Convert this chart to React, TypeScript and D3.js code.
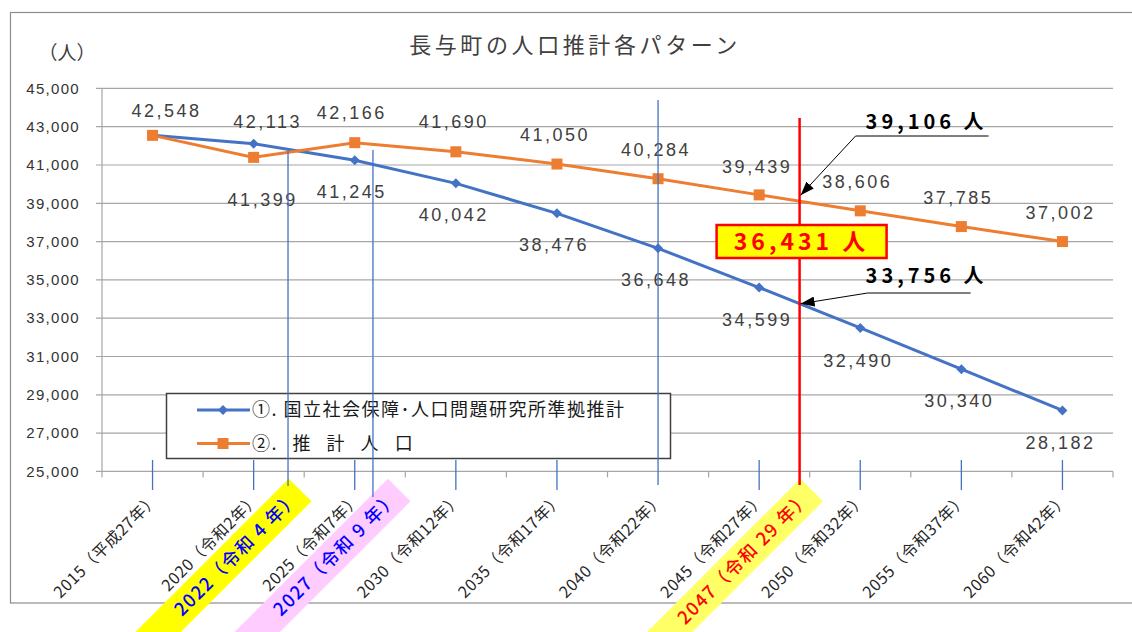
import React from 'react';
import * as d3 from 'd3';

const W = 1132;
const H = 632;

// categories
const years = [
  '2015（平成27年）', '2020（令和2年）', '2025（令和7年）', '2030（令和12年）', '2035（令和17年）',
  '2040（令和22年）', '2045（令和27年）', '2050（令和32年）', '2055（令和37年）', '2060（令和42年）',
];
const yearNums = [2015, 2020, 2025, 2030, 2035, 2040, 2045, 2050, 2055, 2060];

// series
const ipssValues = [42548, 42113, 41245, 40042, 38476, 36648, 34599, 32490, 30340, 28182];
const estValues = [42548, 41399, 42166, 41690, 41050, 40284, 39439, 38606, 37785, 37002];
const seriesNames = ['①. 国立社会保障･人口問題研究所準拠推計', '②. 推 計 人 口'];

const yTicks = [25000, 27000, 29000, 31000, 33000, 35000, 37000, 39000, 41000, 43000, 45000];

// highlighted years
const targetYear = 2047;
const targetEst = 39106;
const targetIpss = 33756;
const targetDiff = 36431;
const markLineYears = [2021.7, 2025.9, 2040];
const markLabels = [
  { year: 2022.3, text: '2022（令和 4 年）', fill: '#ffff00', color: '#0000ff' },
  { year: 2027.2, text: '2027（令和 9 年）', fill: '#ffccff', color: '#0000ff' },
  { year: 2047.6, text: '2047（令和 29 年）', fill: '#ffff66', color: '#ff0000' },
];

// label placement (dx, dy from point)
const ipssLabelDx = [14, 14, -3, -2, -3, -2, -2, -2, -2, -2];
const ipssLabelDy = [-25, -22, 31, 31, 31, 31, 32, 33, 32, 32];
const estLabelDx = [0, 9, -3, -2, -2, -2, -2, -3, -3, -2];
const estLabelDy = [0, 42, -30, -30, -29, -29, -28, -29, -29, -29];

const BLUE = '#4472c4';
const ORANGE = '#ed7d31';
const numFont = '"Liberation Sans", Arial, sans-serif';
const jpFont = '"Noto Sans CJK JP", sans-serif';
const fmt = d3.format(',');

export default function App() {
  const x = d3.scaleBand<string>().domain(years).range([102, 1113]).padding(0);
  const cx = (i: number) => (x(years[i]) as number) + x.bandwidth() / 2;
  const xYear = d3.scaleLinear().domain([2015, 2060]).range([cx(0), cx(years.length - 1)]);
  const y = d3.scaleLinear().domain([25000, 45000]).range([471.4, 88.4]);

  const line = d3.line<number>().x((_, i) => cx(i)).y((d) => y(d));
  const diamond = d3.symbol(d3.symbolSquare, 50)();
  const square = d3.symbol(d3.symbolSquare, 121)();

  const redX = xYear(targetYear);
  const [yBottom, yTop] = y.range();
  const tipEst: [number, number] = [redX + 1, y(targetEst) - 6];
  const tipIpss: [number, number] = [redX + 1, y(targetIpss)];

  return (
    <svg width={W} height={H} style={{ position: 'absolute', left: 0, top: 0, background: '#fff' }}>
      <defs>
        <marker id="arrow" viewBox="0 0 14 10" refX="14" refY="5" markerWidth="14" markerHeight="10"
          markerUnits="userSpaceOnUse" orient="auto">
          <path d="M0,0 L14,5 L0,10 Z" fill="#000" />
        </marker>
      </defs>
      <rect x={10.5} y={12.5} width={1140} height={590.5} fill="#fff" stroke="#8c8c8c" strokeWidth={1.2} />

      {/* title */}
      <text x={575} y={45} dy="0.35em" textAnchor="middle" fontFamily={jpFont} fontSize={22}
        letterSpacing={3.6} fill="#404040">長与町の人口推計各パターン</text>
      <text x={67} y={53} dy="0.35em" textAnchor="middle" fontFamily={jpFont} fontSize={19} fill="#404040">（人）</text>

      {/* grid + y axis */}
      {yTicks.map((t) => (
        <g key={t}>
          <line x1={96} x2={1113} y1={y(t)} y2={y(t)} stroke="#a6a6a6" strokeWidth={1.2} />
          <text x={80} y={y(t)} dy="0.35em" textAnchor="end" fontFamily={numFont} fontSize={15}
            letterSpacing={1.3} fill="#333">{fmt(t)}</text>
        </g>
      ))}
      <line x1={102} x2={102} y1={yTop} y2={yBottom} stroke="#a6a6a6" strokeWidth={1.2} />
      {d3.range(years.length + 1).map((i) => {
        const xx = 102 + i * x.bandwidth();
        return <line key={i} x1={xx} x2={xx} y1={yBottom} y2={yBottom + 6} stroke="#a6a6a6" strokeWidth={1.2} />;
      })}

      {/* x labels */}
      {years.map((c, i) => (
        <text key={c} transform={`translate(${cx(i) + 3},${496}) rotate(-45)`} dy="0.35em" textAnchor="end"
          fontFamily={jpFont} fontSize={16} letterSpacing={0.6} fill="#262626">{c}</text>
      ))}

      {/* highlighted year labels */}
      {markLabels.map((m) => (
        <g key={m.text} transform={`translate(${xYear(m.year)},${490}) rotate(-45)`}>
          <rect x={-300} y={-16} width={300} height={32} fill={m.fill} />
          <text x={-6} dy="0.35em" textAnchor="end" fontFamily={jpFont} fontSize={18} fontWeight={500}
            letterSpacing={1.5} fill={m.color}>{m.text}</text>
        </g>
      ))}

      {/* series lines */}
      <path d={line(ipssValues) || ''} fill="none" stroke={BLUE} strokeWidth={3} />
      <path d={line(estValues) || ''} fill="none" stroke={ORANGE} strokeWidth={3} />
      {ipssValues.map((v, i) => (
        <path key={'bm' + i} d={diamond || ''} transform={`translate(${cx(i)},${y(v)}) rotate(45)`} fill={BLUE} />
      ))}
      {estValues.map((v, i) => (
        <path key={'om' + i} d={square || ''} transform={`translate(${cx(i)},${y(v)})`} fill={ORANGE} />
      ))}

      {/* data labels */}
      {ipssValues.map((v, i) => (
        <text key={'bl' + i} x={cx(i) + ipssLabelDx[i]} y={y(v) + ipssLabelDy[i]} dy="0.35em" textAnchor="middle"
          fontFamily={numFont} fontSize={18} letterSpacing={2.5} fill="#404040">{fmt(v)}</text>
      ))}
      {estValues.map((v, i) => (i === 0 ? null : (
        <text key={'ol' + i} x={cx(i) + estLabelDx[i]} y={y(v) + estLabelDy[i]} dy="0.35em" textAnchor="middle"
          fontFamily={numFont} fontSize={18} letterSpacing={2.5} fill="#404040">{fmt(v)}</text>
      )))}

      {/* legend */}
      <rect x={166.5} y={393.5} width={504} height={65} fill="#fff" stroke="#404040" strokeWidth={1.5} />
      {seriesNames.map((n, i) => {
        const ly = 410 + i * 33.5;
        const col = i === 0 ? BLUE : ORANGE;
        return (
          <g key={n}>
            <line x1={197} x2={250} y1={ly} y2={ly} stroke={col} strokeWidth={3} />
            <path d={(i === 0 ? diamond : square) || ''}
              transform={`translate(223,${ly}) ${i === 0 ? 'rotate(45)' : ''}`} fill={col} />
            <text x={252} y={ly} dy="0.35em" fontFamily={jpFont} fontSize={18} letterSpacing={1.5}
              wordSpacing={i === 0 ? 0 : 9} fill="#1a1a1a">{n}</text>
          </g>
        );
      })}

      {/* thin blue marker lines */}
      {yearNums.map((yr, i) => (yr === 2040 ? null : (
        <line key={'t' + i} x1={cx(i)} x2={cx(i)} y1={460} y2={490} stroke={BLUE} strokeWidth={1.3} />
      )))}
      <line x1={xYear(markLineYears[0])} x2={xYear(markLineYears[0])} y1={150} y2={486} stroke={BLUE} strokeWidth={1.3} />
      <line x1={xYear(markLineYears[1])} x2={xYear(markLineYears[1])} y1={150} y2={497} stroke={BLUE} strokeWidth={1.3} />
      <line x1={xYear(markLineYears[2])} x2={xYear(markLineYears[2])} y1={100} y2={485} stroke={BLUE} strokeWidth={1.3} />

      {/* red target line */}
      <line x1={redX} x2={redX} y1={118} y2={485} stroke="#ff0000" strokeWidth={2.5} />
      <rect x={redX - 83} y={225} width={170} height={33} fill="#ffff00" stroke="#ff0000" strokeWidth={2.5} />
      <text x={redX + 2} y={242} dy="0.35em" textAnchor="middle" fontFamily={jpFont} fontWeight={700}
        fontSize={23} letterSpacing={4} fill="#ff0000">{fmt(targetDiff)} 人</text>

      {/* arrows */}
      <line x1={tipEst[0] + 55} y1={136} x2={tipEst[0] + 188} y2={136} stroke="#000" strokeWidth={1} />
      <line x1={tipEst[0] + 55} y1={136} x2={tipEst[0]} y2={tipEst[1]} stroke="#000" strokeWidth={1} markerEnd="url(#arrow)" />
      <text x={tipEst[0] + 65} y={122} dy="0.35em" fontFamily={jpFont} fontWeight={700} fontSize={20}
        letterSpacing={4} fill="#000">{fmt(targetEst)} 人</text>

      <line x1={tipIpss[0] + 67} y1={293} x2={tipIpss[0] + 170} y2={293} stroke="#000" strokeWidth={1} />
      <line x1={tipIpss[0] + 67} y1={293} x2={tipIpss[0]} y2={tipIpss[1]} stroke="#000" strokeWidth={1} markerEnd="url(#arrow)" />
      <text x={tipIpss[0] + 65} y={276} dy="0.35em" fontFamily={jpFont} fontWeight={700} fontSize={20}
        letterSpacing={4} fill="#000">{fmt(targetIpss)} 人</text>
    </svg>
  );
}
